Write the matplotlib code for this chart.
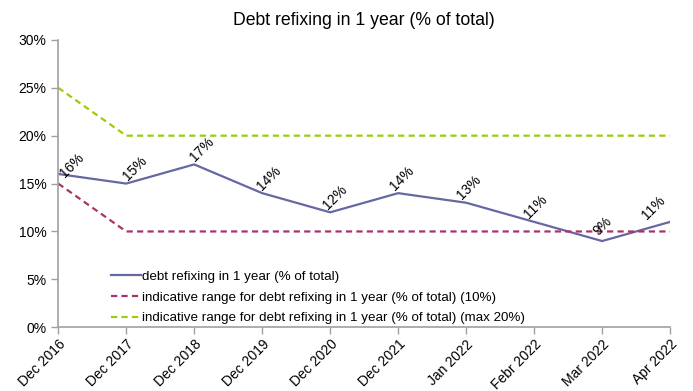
import matplotlib
matplotlib.use("Agg")
import matplotlib.pyplot as plt
from matplotlib.ticker import FuncFormatter, MultipleLocator

plt.rcParams['font.family'] = ['Liberation Sans', 'DejaVu Sans']

categories = ["Dec 2016", "Dec 2017", "Dec 2018", "Dec 2019", "Dec 2020",
              "Dec 2021", "Jan 2022", "Febr 2022", "Mar 2022", "Apr 2022"]
refixing = [16, 15, 17, 14, 12, 14, 13, 11, 9, 11]
range_low = [15, 10, 10, 10, 10, 10, 10, 10, 10, 10]
range_max = [25, 20, 20, 20, 20, 20, 20, 20, 20, 20]

label_main = "debt refixing in 1 year (% of total)"
label_low = "indicative range for debt refixing in 1 year (% of total) (10%)"
label_max = "indicative range for debt refixing in 1 year (% of total) (max 20%)"

fig = plt.figure(figsize=(6.93, 3.91), dpi=100)
ax = fig.add_axes([0.084, 0.163, 0.883, 0.735])

x = list(range(len(categories)))
ax.plot(x, refixing, color="#6667A3", lw=1.6, label=label_main)
ax.plot(x, range_low, color="#A8336A", lw=1.6, ls=(0, (2.8, 1.9)), label=label_low)
ax.plot(x, range_max, color="#9ACD0A", lw=1.6, ls=(0, (2.8, 1.9)), label=label_max)

# rotated value labels, centred a little above each point and kept inside the plot
n = len(x)
for i, (xi, v) in enumerate(zip(x, refixing)):
    dx, dy = 10 - 1.2 * i, 15
    if i == 0:
        dx, dy = 14, 9
    elif i == n - 1:
        dx, dy = -17, 14
    ax.annotate(f"{v}%", (xi, v), xytext=(dx * 0.72, dy * 0.72),
                textcoords="offset points", rotation=45,
                rotation_mode="anchor", ha="center", va="center",
                fontsize=10, color="#000000")

ax.set_xlim(0, n - 1)
ax.set_ylim(0, 30)
ax.yaxis.set_major_locator(MultipleLocator(5))
ax.yaxis.set_major_formatter(FuncFormatter(lambda v, p: f"{v:.0f}%"))
ax.set_xticks(x)
ax.set_xticklabels(categories, rotation=45, ha="right", rotation_mode="anchor")

for s in ["top", "right"]:
    ax.spines[s].set_visible(False)
for s in ["left", "bottom"]:
    ax.spines[s].set_color("#A0A0A0")
    ax.spines[s].set_linewidth(1.2)
ax.tick_params(axis="both", colors="#A0A0A0", labelcolor="#000000",
               labelsize=10, length=5, width=1)
ax.tick_params(axis="x", pad=2)

ax.set_title("Debt refixing in 1 year (% of total)", fontsize=12.7, pad=11)

ax.legend(loc="lower left", bbox_to_anchor=(0.078, -0.008), frameon=False,
          fontsize=9.6, handlelength=2.2, handletextpad=0.1, labelspacing=0.62,
          borderaxespad=0.0)

fig.savefig("out.png", dpi=100)
